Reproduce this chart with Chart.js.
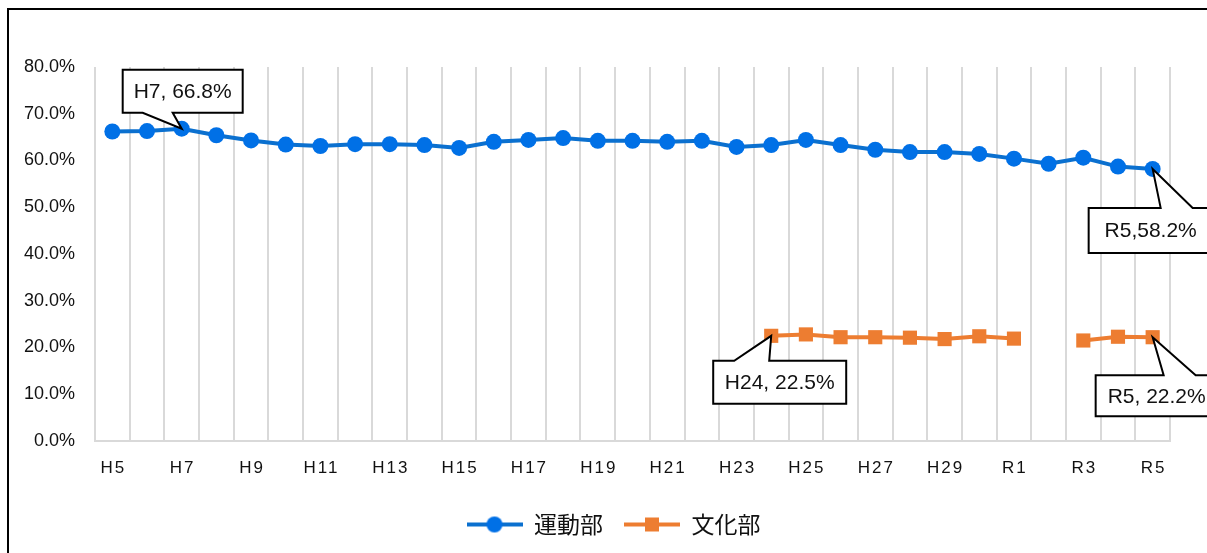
<!DOCTYPE html>
<html>
<head>
<meta charset="utf-8">
<script src="https://cdn.jsdelivr.net/npm/chart.js@4/dist/chart.umd.min.js"></script>
<style>
  html, body { margin: 0; padding: 0; background: #fff; }
  #wrap { width: 1207px; height: 553px; }
</style>
</head>
<body>
<div id="wrap"><canvas id="chartCanvas" width="1207" height="553"></canvas></div>
<script>
// year labels (Heisei 5 .. Reiwa 5)
const years = ["H5", "H6", "H7", "H8", "H9", "H10", "H11", "H12", "H13", "H14", "H15", "H16",
  "H17", "H18", "H19", "H20", "H21", "H22", "H23", "H24", "H25", "H26", "H27", "H28",
  "H29", "H30", "R1", "R2", "R3", "R4", "R5"];

// sports clubs, %
const sportsClub = [66.2, 66.3, 66.8, 65.4, 64.3, 63.4, 63.1, 63.5, 63.5, 63.3, 62.7, 64.0,
  64.4, 64.8, 64.2, 64.2, 64.0, 64.2, 62.9, 63.3, 64.4, 63.3, 62.3, 61.8,
  61.8, 61.4, 60.4, 59.3, 60.6, 58.7, 58.2];

// culture clubs, % (only from H24, no value for R2)
const cultureClub = [null, null, null, null, null, null, null, null, null, null, null, null,
  null, null, null, null, null, null, null, 22.5, 22.8, 22.2, 22.2, 22.1,
  21.8, 22.4, 21.9, null, 21.5, 22.3, 22.2];

const seriesNames = ["運動部", "文化部"];
const yTicks = [0, 10, 20, 30, 40, 50, 60, 70, 80];

const blueLine = "#0b70cf";
const blueDot = "#0070e6";
const orange = "#ed7d31";

// little legend icons: line with marker in the middle
function legendIcon(color, dotColor, shape) {
  const c = document.createElement("canvas");
  c.width = 56; c.height = 18;
  const g = c.getContext("2d");
  g.strokeStyle = color; g.lineWidth = 4;
  g.beginPath(); g.moveTo(0, 9); g.lineTo(56, 9); g.stroke();
  g.fillStyle = dotColor;
  if (shape === "circle") {
    g.beginPath(); g.arc(28, 9, 8, 0, Math.PI * 2); g.fill();
  } else {
    g.fillRect(21, 2, 14, 14);
  }
  return c;
}

// callouts: which point, text, box placement relative to the point
const callouts = [
  { ds: 0, idx: 2, text: "H7, 66.8%", left: -59, top: -59, w: 120, h: 43, tail: [-39, -9], side: "bottom" },
  { ds: 1, idx: 19, text: "H24, 22.5%", left: -58, top: 25, w: 133, h: 43, tail: [-37, -2], side: "top" },
  { ds: 1, idx: 30, text: "R5, 22.2%", left: -57, top: 38, w: 122, h: 41, tail: [11, 43], side: "top" },
  { ds: 0, idx: 30, text: "R5,58.2%", left: -64, top: 39, w: 124, h: 45, tail: [8, 40], side: "top" }
];

const framePlugin = {
  id: "frame",
  beforeDraw(chart) {
    const ctx = chart.ctx;
    ctx.save();
    ctx.fillStyle = "#fff";
    ctx.fillRect(0, 0, chart.width, chart.height);
    ctx.strokeStyle = "#000";
    ctx.lineWidth = 2;
    ctx.strokeRect(8, 9, chart.width + 20, chart.height + 20);
    ctx.restore();
  }
};

const calloutPlugin = {
  id: "callouts",
  afterDatasetsDraw(chart) {
    const ctx = chart.ctx;
    ctx.save();
    callouts.forEach(c => {
      const pt = chart.getDatasetMeta(c.ds).data[c.idx];
      const px = pt.x, py = pt.y;
      const x0 = px + c.left, y0 = py + c.top, x1 = x0 + c.w, y1 = y0 + c.h;
      const t0 = px + c.tail[0], t1 = px + c.tail[1];
      ctx.beginPath();
      if (c.side === "top") {
        ctx.moveTo(x0, y0); ctx.lineTo(t0, y0); ctx.lineTo(px, py); ctx.lineTo(t1, y0);
        ctx.lineTo(x1, y0); ctx.lineTo(x1, y1); ctx.lineTo(x0, y1); ctx.closePath();
      } else {
        ctx.moveTo(x0, y0); ctx.lineTo(x1, y0); ctx.lineTo(x1, y1); ctx.lineTo(t1, y1);
        ctx.lineTo(px, py); ctx.lineTo(t0, y1); ctx.lineTo(x0, y1); ctx.closePath();
      }
      ctx.fillStyle = "#fff";
      ctx.fill();
      ctx.strokeStyle = "#000";
      ctx.lineWidth = 2;
      ctx.lineJoin = "miter";
      ctx.stroke();
      ctx.fillStyle = "#111";
      ctx.font = "21px 'Liberation Sans', Arial, sans-serif";
      ctx.textAlign = "center";
      ctx.textBaseline = "middle";
      ctx.fillText(c.text, (x0 + x1) / 2, (y0 + y1) / 2 + 1);
    });
    ctx.restore();
  }
};

const ctx = document.getElementById("chartCanvas").getContext("2d");
new Chart(ctx, {
  type: "line",
  data: {
    labels: years,
    datasets: [
      {
        label: seriesNames[0],
        data: sportsClub,
        borderColor: blueLine,
        backgroundColor: blueDot,
        borderWidth: 4,
        pointStyle: "circle",
        pointRadius: 8,
        pointBorderWidth: 0,
        pointBackgroundColor: blueDot,
        tension: 0
      },
      {
        label: seriesNames[1],
        data: cultureClub,
        borderColor: orange,
        backgroundColor: orange,
        borderWidth: 4,
        pointStyle: "rect",
        pointRadius: 10,
        pointBorderWidth: 0,
        pointBackgroundColor: orange,
        spanGaps: false,
        tension: 0
      }
    ]
  },
  options: {
    responsive: false,
    animation: false,
    layout: { padding: { left: 20, right: 0, top: 67, bottom: 7 } },
    plugins: {
      tooltip: { enabled: false },
      legend: {
        position: "bottom",
        labels: {
          usePointStyle: true,
          pointStyleWidth: 56,
          boxHeight: 18,
          padding: 21,
          color: "#111",
          font: { family: "'Noto Sans CJK JP', sans-serif", size: 23 },
          generateLabels(chart) {
            return chart.data.datasets.map((d, i) => ({
              text: d.label,
              datasetIndex: i,
              fontColor: "#111",
              pointStyle: i === 0 ? legendIcon(blueLine, blueDot, "circle") : legendIcon(orange, orange, "rect"),
              lineWidth: 0,
              strokeStyle: "transparent",
              fillStyle: "transparent",
              hidden: false
            }));
          }
        }
      }
    },
    scales: {
      x: {
        offset: true,
        grid: { display: true, offset: true, color: "#d9d9d9", lineWidth: 2, drawTicks: false },
        border: { display: true, color: "#d9d9d9", width: 2 },
        ticks: {
          autoSkip: false,
          maxRotation: 0,
          padding: 17,
          color: "#111",
          font: { family: "'Liberation Sans', Arial, sans-serif", size: 17 },
          callback(v, i) { return i % 2 === 0 ? years[i] : ""; }
        },
        afterFit(scale) { scale.height = 51; },
        afterUpdate(scale) {
          // spaced-out tick letters like the original
          if (scale._spaced) return;
          scale._spaced = true;
          const orig = scale.drawLabels.bind(scale);
          scale.drawLabels = function (area) {
            const c = scale.ctx;
            c.save();
            c.letterSpacing = "2px";
            c.translate(1, 0);
            orig(area);
            c.restore();
          };
        }
      },
      y: {
        min: 0,
        max: 80,
        afterBuildTicks(scale) { scale.ticks = yTicks.map(v => ({ value: v })); },
        afterFit(scale) { scale.width = 75; },
        grid: { display: false, drawTicks: false },
        border: { display: false },
        ticks: {
          padding: 20,
          color: "#111",
          font: { family: "'Liberation Sans', Arial, sans-serif", size: 18 },
          callback(v) { return v.toFixed(1) + "%"; }
        }
      },
      // empty right axis, only keeps room on the right side of the plot
      yRight: {
        position: "right",
        display: true,
        min: 0,
        max: 80,
        afterFit(scale) { scale.width = 37; },
        grid: { display: false, drawTicks: false },
        border: { display: false },
        ticks: { display: false }
      }
    }
  },
  plugins: [framePlugin, calloutPlugin]
});
</script>
</body>
</html>
